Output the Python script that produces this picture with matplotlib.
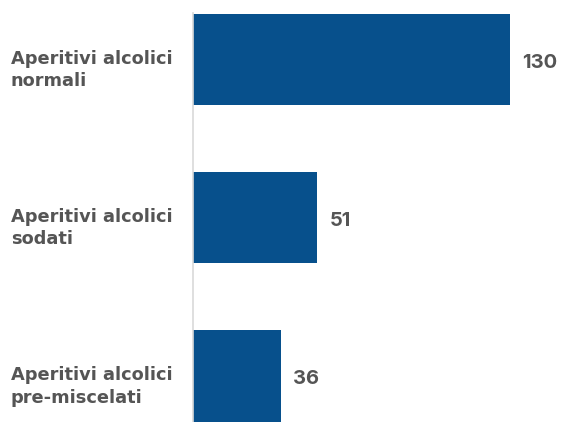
import matplotlib.pyplot as plt
from matplotlib import transforms

categories = ["Aperitivi alcolici\nnormali", "Aperitivi alcolici\nsodati", "Aperitivi alcolici\npre-miscelati"]
values = [130, 51, 36]

bar_color = "#07508c"
text_color = "#555555"

plt.rcParams['font.family'] = ['Inter', 'DejaVu Sans']

fig = plt.figure(figsize=(5.62, 4.22), dpi=100)
ax = fig.add_axes([193 / 562, 0, 1 - 193 / 562, 1 - 13 / 422])

pos = list(range(len(values)))
ax.barh(pos, values, height=0.576, color=bar_color, align='center')

ax.set_xlim(0, 151.4)
ax.set_ylim(2.291, -0.297)

for s in ['top', 'right', 'bottom']:
    ax.spines[s].set_visible(False)
ax.spines['left'].set_color('#d9d9d9')
ax.spines['left'].set_linewidth(1.2)
ax.set_xticks([])
ax.set_yticks([])

# category labels, left aligned at figure edge
trans = transforms.blended_transform_factory(fig.transFigure, ax.transData)
for p, lab in zip(pos, categories):
    ax.text(11 / 562, p + 0.065, lab, transform=trans, ha='left', va='center',
            fontsize=12.8, fontweight='bold', color=text_color, linespacing=1.32,
            family='DejaVu Sans')

# value labels
for p, v in zip(pos, values):
    ax.annotate(str(v), xy=(v, p), xytext=(9, -2), textcoords='offset points',
                ha='left', va='center', fontsize=14.5, fontweight='bold', color=text_color)

fig.savefig("out.png", dpi=100)
